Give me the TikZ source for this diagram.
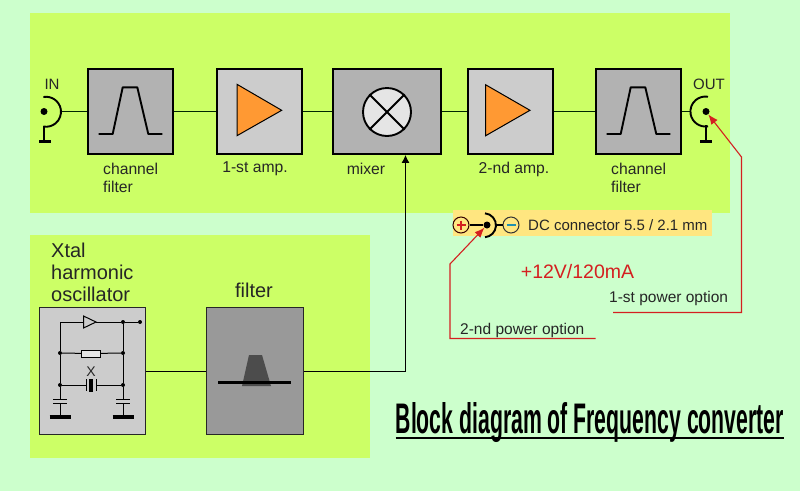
\documentclass[tikz,border=0pt]{standalone}
\usepackage{fontspec}
\setmainfont{Liberation Sans}
\usetikzlibrary{arrows.meta,calc}

\definecolor{pageGreen}{HTML}{CCFFCC}
\definecolor{panelGreen}{HTML}{CCFF66}
\definecolor{dcYellow}{HTML}{FFE680}
\definecolor{ampOrange}{HTML}{FF9933}
\definecolor{optRed}{HTML}{D42020}
\definecolor{minusBlue}{HTML}{2090B0}

\tikzset{
  panel/.style={fill=panelGreen, draw=none},
  block/.style={draw=black, line width=1.9pt, minimum height=85pt, inner sep=0pt},
  bigblock/.style={draw=black!85, line width=1.2pt, minimum height=127pt, inner sep=0pt},
  wire/.style={line width=1.4pt, draw=black!85!green},
  thinwire/.style={line width=1pt, draw=black},
  redline/.style={line width=1.1pt, draw=optRed},
  lab/.style={inner sep=0pt, align=left, text=black!85, font=\fontsize{15.7}{17.8}\selectfont},
  biglab/.style={inner sep=0pt, align=left, text=black!85, font=\fontsize{20}{22.3}\selectfont},
  joint/.style={circle, fill=black, inner sep=0pt, minimum size=4pt},
}

\begin{document}
\begin{tikzpicture}[x=1pt, y=-1pt, line cap=butt, line join=miter]
  \useasboundingbox[fill=pageGreen] (0,0) rectangle (800,491);
  \fill[panel] (30,13) rectangle (730,213);
  \fill[panel] (30,235) rectangle (370,458);
  \fill[dcYellow] (452.5,210) rectangle (712,236);

  % upper chain
  \node[block, fill=black!30, minimum width=85.5pt] (chanA) at (130.5,111.5) {};
  \node[block, fill=black!20, minimum width=85.5pt] (ampA) at (259.5,111.5) {};
  \node[block, fill=black!30, minimum width=108.5pt] (mixer) at (387,111.5) {};
  \node[block, fill=black!20, minimum width=85.5pt] (ampB) at (510.5,111.5) {};
  \node[block, fill=black!30, minimum width=85.5pt] (chanB) at (638.5,111.5) {};
  \coordinate (inArc) at (61,111.5);
  \coordinate (outArc) at (690.5,111.5);
  \draw[wire] (inArc) -- (chanA.west);
  \draw[wire] (chanA.east) -- (ampA.west);
  \draw[wire] (ampA.east) -- (mixer.west);
  \draw[wire] (mixer.east) -- (ampB.west);
  \draw[wire] (ampB.east) -- (chanB.west);
  \draw[wire] (chanB.east) -- (outArc);

  % passband curves
  \foreach \b in {chanA,chanB} {
    \draw[line width=1.9pt, line join=round] ($(\b)+(-31.8,22.5)$) -- ++(14,0) -- ++(10,-46.7) -- ++(14.6,0) -- ++(11,46.7) -- ++(14,0);
  }
  \draw[fill=ampOrange, line width=1pt] (237,84.3) -- (237,135.7) -- (281.7,110.3) -- cycle;
  \draw[fill=ampOrange, line width=1pt] (485.7,84.8) -- (485.7,135.7) -- (530,110.3) -- cycle;
  \node[circle, draw=black, line width=1.9pt, fill=black!10, minimum size=48pt, inner sep=0pt] (mixSym) at (387,112) {};
  \draw[line width=1.9pt] (mixSym.45) -- (mixSym.225) (mixSym.135) -- (mixSym.315);

  % input and output sockets
  \node[joint, minimum size=7pt] (inDot) at (44,111.5) {};
  \draw[line width=1.9pt] (43.4,97) arc[start angle=-100, end angle=100, radius=15];
  \draw[line width=1.3pt] (44,126) -- (44,141);
  \draw[line width=2.8pt] (39,141.5) -- (51,141.5);
  \node[joint, minimum size=7pt] (outDot) at (706,111.5) {};
  \draw[line width=1.9pt] (708,126.3) arc[start angle=80, end angle=280, radius=15];
  \draw[line width=1.3pt] (706,125) -- (706,141);
  \draw[line width=2.8pt] (700,141.5) -- (712,141.5);
  \node[lab, font=\fontsize{15}{17}\selectfont] (inLab) at (52,84) {IN};
  \node[lab, font=\fontsize{15}{17}\selectfont] (outLab) at (709,84) {OUT};

  \node[lab, anchor=north west] (chanTextA) at (103,162.7) {channel\\filter};
  \node[lab] (ampTextA) at (255,169) {1-st amp.};
  \node[lab] (mixText) at (366,169) {mixer};
  \node[lab] (ampTextB) at (514,169) {2-nd amp.};
  \node[lab, anchor=north west] (chanTextB) at (611,162.7) {channel\\filter};

  % lower chain
  \node[bigblock, fill=black!20, minimum width=106pt] (xtal) at (92.5,371) {};
  \node[bigblock, fill=black!40, minimum width=97pt] (filt) at (255,371) {};
  \coordinate (mixTap) at ($(mixer.south)+(18.5,0)$);
  \draw[thinwire] (xtal.east) -- (filt.west);
  \draw[thinwire, -{Latex[length=8pt,width=8pt]}] (filt.east) -| (mixTap);
  \node[biglab, anchor=north west] (xtalText) at (51,242.5) {Xtal\\harmonic\\oscillator};
  \node[biglab] (filtText) at (254,290) {filter};
  \fill[black!70] (242,386) -- (249,355) -- (262,355) -- (271,386) -- cycle;
  \draw[line width=2.2pt] (218,382.5) -- (291,382.5);

  % oscillator circuit
  \foreach \n/\x/\y in {jA/60/353, jB/60/385, jC/123/322, jD/123/353, jE/123/385} {
    \node[joint] (\n) at (\x,\y) {};
  }
  \node[joint] (jOut) at (140,322) {};
  \draw[line width=1pt, fill=black!20] (83.5,316) -- (83.5,328) -- (96,322) -- cycle;
  \draw[line width=1pt] (83.5,322) -- (60,322) -- (jA) -- (jB) -- (60,399);
  \draw[line width=1pt] (96,322) -- (jC) -- (jOut);
  \draw[line width=1pt] (jC) -- (jD) -- (jE) -- (123,399);
  \node[draw=black, line width=0.9pt, fill=black!10, minimum width=18.5pt, minimum height=7pt, inner sep=0pt] (res) at (91,353.5) {};
  \draw[line width=1pt] (jA) -- (res) -- (jD);
  \draw[line width=1pt] (jB) -- (85.5,385) (96.5,385) -- (jE);
  \draw[line width=1pt] (86,379) -- (86,391) (96,379) -- (96,391);
  \fill[black] (89,379) rectangle (93,392);
  \node[lab, font=\fontsize{14}{16}\selectfont] (xLab) at (91,371.5) {X};
  \foreach \x in {60,123} {
    \draw[line width=1pt] (\x-7,399) -- (\x+7,399) (\x-7,403) -- (\x+7,403) (\x,403) -- (\x,417);
    \draw[line width=3.2pt] (\x-10.5,417) -- (\x+10.5,417);
  }

  % dc connector
  \node[circle, draw=black!80!red, line width=1pt, minimum size=16pt, inner sep=0pt] (plusPin) at (461,225) {};
  \draw[line width=1.1pt, draw=optRed] ($(plusPin)+(-4.5,0)$) -- ++(9,0) ($(plusPin)+(0,-4.5)$) -- ++(0,9);
  \node[joint, minimum size=7pt] (dcDot) at (487,225) {};
  \node[circle, draw=black!80, line width=1pt, minimum size=16pt, inner sep=0pt] (minusPin) at (511,225) {};
  \draw[line width=1.1pt, draw=minusBlue] ($(minusPin)+(-4.5,0)$) -- ++(9,0);
  \draw[line width=1.2pt] (plusPin.east) -- (dcDot);
  \draw[line width=1.2pt] (495,225) -- (minusPin.west);
  \draw[line width=1.9pt] (485,213.3) arc[start angle=-85, end angle=85, radius=12];
  \node[lab, anchor=west, font=\fontsize{15}{17}\selectfont] (dcText) at (528,225.5) {DC connector 5.5 / 2.1 mm};

  % power options
  \node[lab, text=optRed, font=\fontsize{19.5}{22}\selectfont] (powerText) at (577.5,272) {+12V/120mA};
  \node[lab, anchor=base west, font=\fontsize{15.5}{18}\selectfont] (optOne) at (609,302) {1-st power option};
  \node[lab, anchor=base west, font=\fontsize{15.5}{18}\selectfont] (optTwo) at (460,334) {2-nd power option};
  \draw[redline, -{Latex[length=10pt,width=8pt]}] (613,312.5) -- (741.5,312.5) -- (741.5,157) -- (outDot);
  \draw[redline, -{Latex[length=10pt,width=8pt]}] (595.5,338.5) -- (450,338.5) -- (450,264) -- (dcDot);

  % title
  \node[inner sep=0pt, anchor=base west] (title) at (395.5,433) {\resizebox{388pt}{31pt}{\bfseries Block diagram of Frequency converter}};
  \draw[line width=2.4pt] ($(title.base west)+(0,5.2)$) -- ($(title.base east)+(0,5.2)$);
\end{tikzpicture}
\end{document}
